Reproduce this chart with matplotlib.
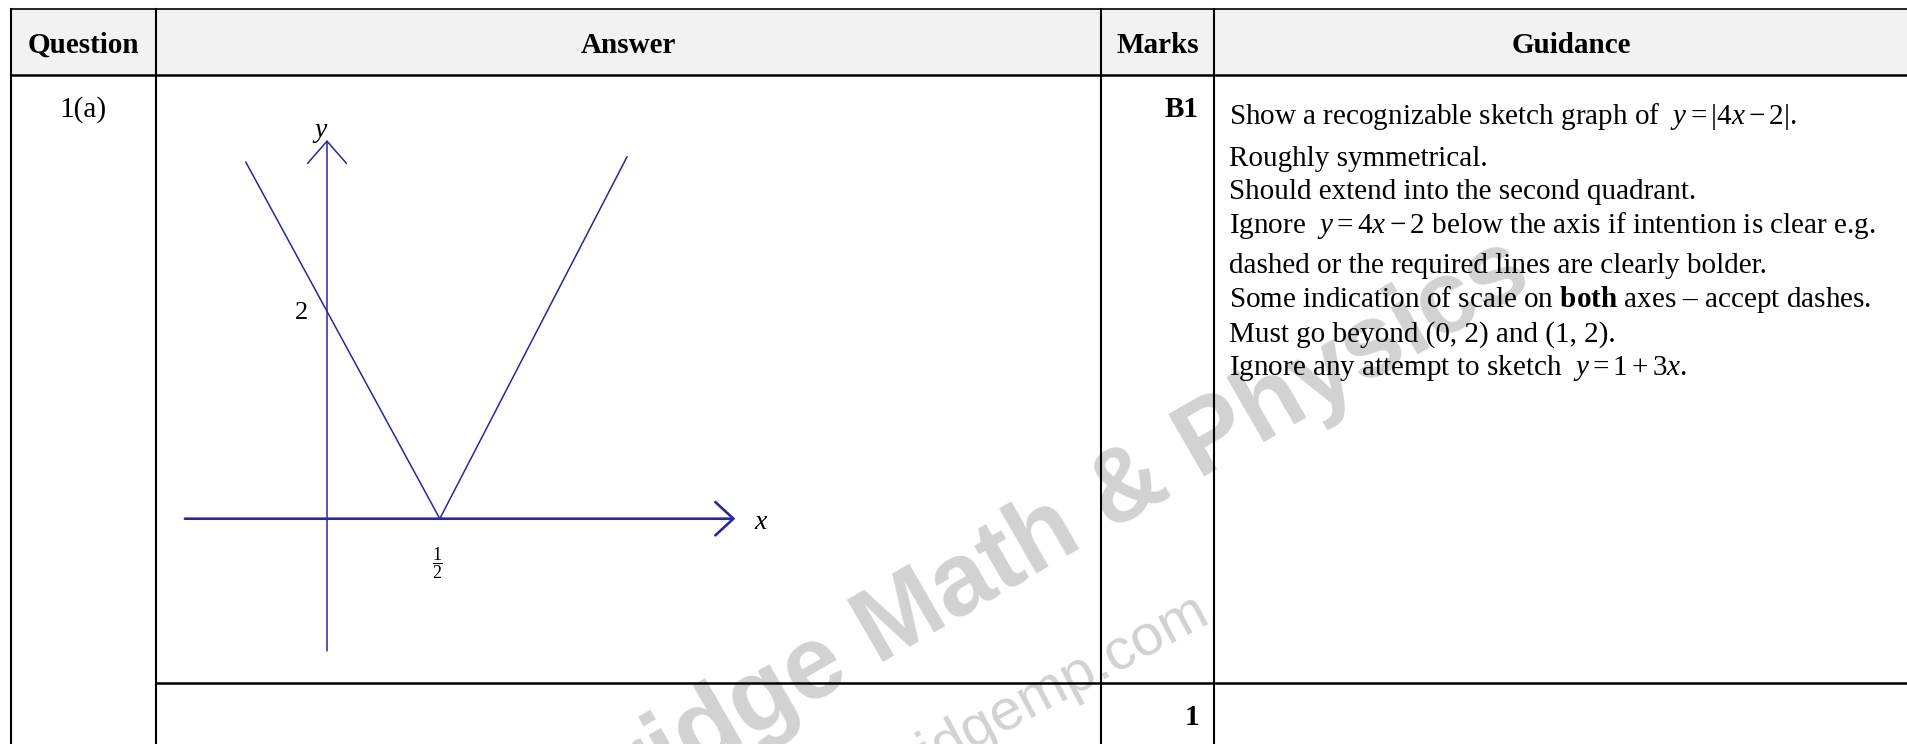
import matplotlib
matplotlib.use('Agg')
import matplotlib.pyplot as plt

plt.rcParams['font.family'] = ['Liberation Serif', 'DejaVu Serif']
plt.rcParams['mathtext.fontset'] = 'custom'
plt.rcParams['mathtext.rm'] = 'Liberation Serif'
plt.rcParams['mathtext.it'] = 'Liberation Serif:italic'
plt.rcParams['mathtext.bf'] = 'Liberation Serif:bold'

W, H = 1908, 744

# table content
HEADERS = ['Question', 'Answer', 'Marks', 'Guidance']
QUESTION = '1(a)'
MARK_CODE = 'B1'
MARK_TOTAL = '1'
GUIDANCE = [
    r'Show a recognizable sketch graph of  $y=|4x-2|$.',
    'Roughly symmetrical.',
    'Should extend into the second quadrant.',
    r'Ignore  $y=4x-2$ below the axis if intention is clear e.g.',
    'dashed or the required lines are clearly bolder.',
    r'Some indication of scale on $\mathbf{both}$ axes – accept dashes.',
    'Must go beyond (0, 2) and (1, 2).',
    r'Ignore any attempt to sketch  $y=1+3x$.',
]
WATERMARK = 'Cambridge Math & Physics'
WATERMARK_URL = 'cambridgemp.com'

# sketch of y = |4x - 2| (graph units)
GRAPH_X = [-0.36, 0.5, 1.33]
GRAPH_Y = [3.40, 0.0, 3.45]
X_AXIS = [-0.63, 1.81]
Y_AXIS = [-1.26, 3.61]
X_TICK = 0.5
Y_TICK = 2

# layout (pixels)
COLS = [11, 156, 1101, 1214, 1928]
TOP, HEAD_BOT, ROW_BOT = 9, 74.5, 683
GUIDE_BASE = [124, 165.7, 199, 233.3, 272.7, 307.3, 341.7, 375]
LINE_C = '#28289a'
WM_C = '#d2d2d2'

fig = plt.figure(figsize=(W / 100, H / 100), dpi=100)
ax = fig.add_axes([0, 0, 1, 1])
ax.set_xlim(0, W)
ax.set_ylim(H, 0)
ax.axis('off')

# header background
ax.fill_between([COLS[0], W], TOP, HEAD_BOT, color='#f2f2f2', lw=0, zorder=0)

# watermark
ax.text(388, 948, WATERMARK, family='Liberation Sans', weight='bold',
        fontsize=74, color=WM_C, rotation=30, rotation_mode='anchor',
        ha='left', va='baseline', zorder=1)
ax.text(788, 846, WATERMARK_URL, family='Liberation Sans',
        fontsize=42, color=WM_C, rotation=28, rotation_mode='anchor',
        ha='left', va='baseline', zorder=1)

# grid lines
ax.plot([COLS[0], W], [TOP, TOP], color='black', lw=1.2, zorder=3)
ax.plot([COLS[0], W], [HEAD_BOT, HEAD_BOT], color='black', lw=1.8, zorder=3)
ax.plot([COLS[1], W], [ROW_BOT, ROW_BOT], color='black', lw=1.8, zorder=3)
for cx in COLS[:4]:
    ax.plot([cx, cx], [TOP, H], color='black', lw=1.5, zorder=3)

# header texts
for i, name in enumerate(HEADERS):
    ax.text((COLS[i] + COLS[i + 1]) / 2, 53, name, ha='center', va='baseline',
            fontsize=21, weight='bold', zorder=4)

ax.text((COLS[0] + COLS[1]) / 2, 117, QUESTION, ha='center', va='baseline',
        fontsize=21, zorder=4)
ax.text(COLS[3] - 15, 117, MARK_CODE, ha='right', va='baseline',
        fontsize=21, weight='bold', zorder=4)
ax.text(COLS[3] - 15, 725, MARK_TOTAL, ha='right', va='baseline',
        fontsize=21, weight='bold', zorder=4)
for yb, line in zip(GUIDE_BASE, GUIDANCE):
    ax.text(1229, yb, line, ha='left', va='baseline', fontsize=21, zorder=4)

# sketch axes (graph units -> pixels)
ORG_X, ORG_Y = 327, 518.7
PX_X, PX_Y = 225.6, 104.9
x0, x1, y0, y1 = COLS[1], COLS[2], HEAD_BOT, ROW_BOT
sk = fig.add_axes([x0 / W, 1 - y1 / H, (x1 - x0) / W, (y1 - y0) / H])
sk.set_xlim((x0 - ORG_X) / PX_X, (x1 - ORG_X) / PX_X)
sk.set_ylim((ORG_Y - y1) / PX_Y, (ORG_Y - y0) / PX_Y)
sk.axis('off')
sk.patch.set_visible(False)

sk.annotate('', xy=(X_AXIS[1], 0), xytext=(X_AXIS[0], 0),
            arrowprops=dict(arrowstyle='->,head_length=0.65,head_width=0.6',
                            color=LINE_C, lw=1.9, mutation_scale=20,
                            shrinkA=0, shrinkB=0))
sk.annotate('', xy=(0, Y_AXIS[1]), xytext=(0, Y_AXIS[0]),
            arrowprops=dict(arrowstyle='->,head_length=0.8,head_width=0.7',
                            color=LINE_C, lw=1.1, mutation_scale=20,
                            shrinkA=0, shrinkB=0))
sk.plot(GRAPH_X, GRAPH_Y, color=LINE_C, lw=1.1)

sk.text(-0.03, Y_AXIS[1] + 0.09, 'y', style='italic', fontsize=20,
        ha='center', va='center')
sk.text(X_AXIS[1] + 0.11, -0.04, 'x', style='italic', fontsize=20,
        ha='center', va='center')
sk.text(-0.115, Y_TICK - 0.04, str(Y_TICK), fontsize=19, ha='center', va='center')
sk.text(X_TICK - 0.008, -0.42, r'$\dfrac{1}{2}$', fontsize=13,
        ha='center', va='center')

fig.savefig('out.png', dpi=100)
